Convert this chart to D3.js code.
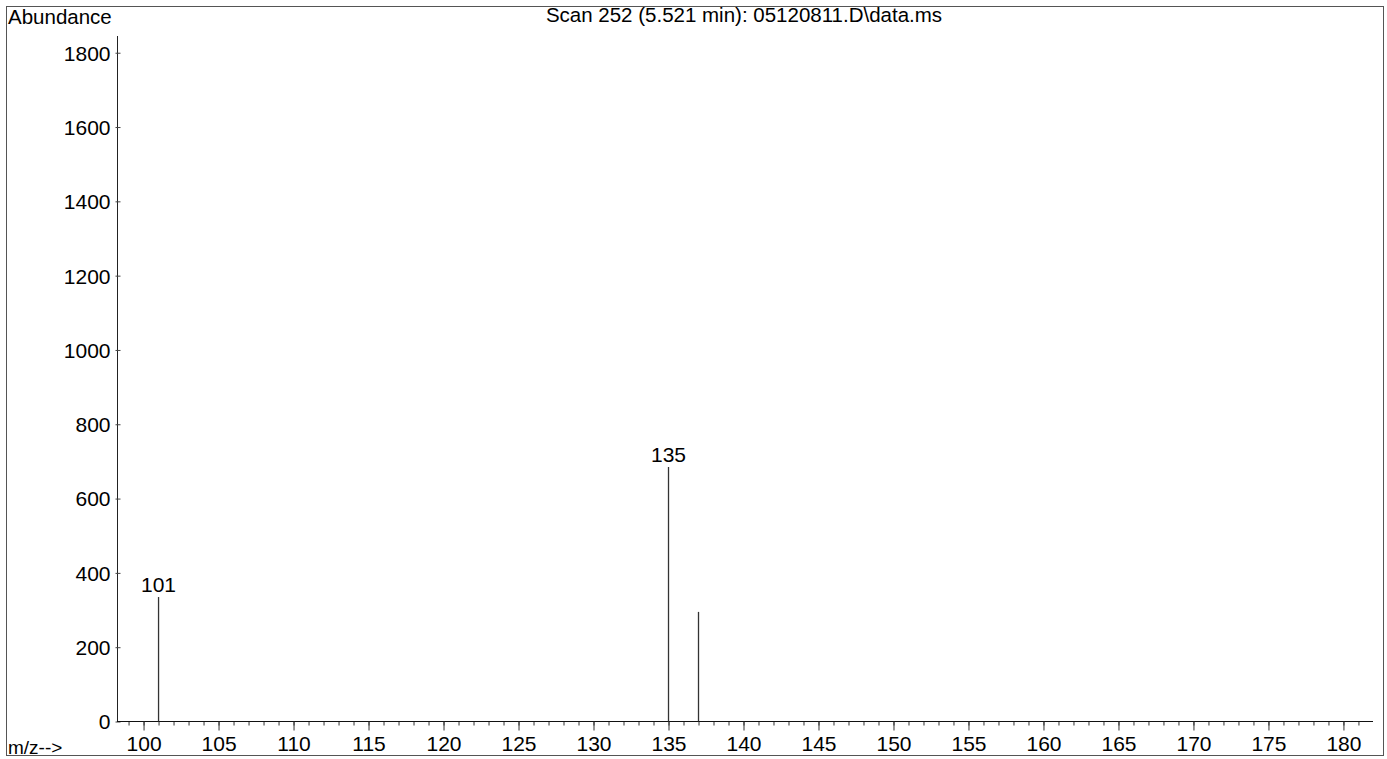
<!DOCTYPE html>
<html>
<head>
<meta charset="utf-8">
<script src="https://cdn.jsdelivr.net/npm/d3@7"></script>
<style>
  body { margin: 0; background: #fff; }
  svg text { font-family: "Liberation Sans", Arial, sans-serif; fill: #000; }
</style>
</head>
<body>
<svg id="chart"></svg>
<script>
// données du spectre
const mz = [101, 135, 137]
const abundance = [335, 685, 295]
const labeledPeaks = [101, 135]
const yTicks = [0, 200, 400, 600, 800, 1000, 1200, 1400, 1600, 1800]
const xMajorTicks = [100, 105, 110, 115, 120, 125, 130, 135, 140, 145, 150, 155, 160, 165, 170, 175, 180]
const title = "Scan 252 (5.521 min): 05120811.D\\data.ms"

const width = 1387, height = 759
const svg = d3.select("#chart").attr("width", width).attr("height", height)

// cadre
svg.append("rect")
    .attr("x", 6.5).attr("y", 6.5)
    .attr("width", 1377).attr("height", 749)
    .attr("fill", "none").attr("stroke", "#555").attr("stroke-width", 1)

const x = d3.scaleLinear().domain([98.23, 181.97]).range([117, 1373])
const y = d3.scaleLinear().domain([0, 1845]).range([721.5, 36])

// axe y
const yAxis = svg.append("g").attr("transform", "translate(117.5,0)")
    .call(d3.axisLeft(y).tickValues(yTicks).tickSize(3).tickPadding(4).tickFormat(d3.format("d")))
yAxis.select(".domain").attr("d", `M0,${y.range()[1]}V${y.range()[0]}`).attr("stroke", "#222")
yAxis.selectAll(".tick line").attr("x2", 3).attr("x1", -2).attr("stroke", "#444")
yAxis.selectAll("text").style("font-size", "21px").attr("dy", "0.35em")

// axe x : graduations mineures puis majeures
const minor = d3.range(99, 182)
svg.append("g").attr("transform", "translate(0,721.5)")
    .call(d3.axisBottom(x).tickValues(minor).tickSize(4).tickFormat(""))
    .call(g => g.select(".domain").remove())
    .selectAll(".tick line").attr("stroke", "#333")

const xAxis = svg.append("g").attr("transform", "translate(0,721.5)")
    .call(d3.axisBottom(x).tickValues(xMajorTicks).tickSize(9).tickPadding(6))
xAxis.select(".domain").attr("d", `M${x.range()[0]},0H${x.range()[1]}`).attr("stroke", "#111")
xAxis.selectAll(".tick line").attr("stroke", "#333")
xAxis.selectAll("text").style("font-size", "21px")

// pics
svg.append("g").selectAll("line")
    .data(mz)
    .join("line")
    .attr("x1", d => x(d)).attr("x2", d => x(d))
    .attr("y1", y(0))
    .attr("y2", (d, i) => y(abundance[i]))
    .attr("stroke", "#333").attr("stroke-width", 1.3)

svg.append("g").selectAll("text")
    .data(labeledPeaks)
    .join("text")
    .attr("x", d => x(d))
    .attr("y", d => y(abundance[mz.indexOf(d)]) - 5)
    .attr("text-anchor", "middle")
    .style("font-size", "21px")
    .text(d => d)

// textes
svg.append("text").attr("x", 8).attr("y", 24).style("font-size", "20.5px").text("Abundance")
svg.append("text").attr("x", 744).attr("y", 22).attr("text-anchor", "middle").style("font-size", "20.5px").text(title)
svg.append("text").attr("x", 8).attr("y", 754).style("font-size", "19px").text("m/z-->")
</script>
</body>
</html>
